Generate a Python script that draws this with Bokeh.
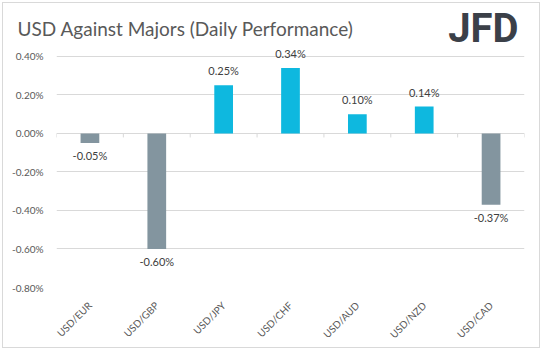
from math import pi
from bokeh.plotting import figure
from bokeh.layouts import column
from bokeh.models import Range1d, FixedTicker, PrintfTickFormatter
from bokeh.embed import file_html
from bokeh.resources import INLINE
from bokeh.core.properties import value

# ---- data ----
pairs = ["USD/EUR", "USD/GBP", "USD/JPY", "USD/CHF", "USD/AUD", "USD/NZD", "USD/CAD"]
changes = [-0.05, -0.60, 0.25, 0.34, 0.10, 0.14, -0.37]
y_ticks = [-0.8, -0.6, -0.4, -0.2, 0.0, 0.2, 0.4]
title_text = "USD Against Majors (Daily Performance)"
brand = "JFD"

# ---- style ----
POS = "#0EB8DF"
NEG = "#83959F"
TXT = "#595959"
GRID = "#D9D9D9"
FONT = "Lato"

W = 536
TOP_H = 42          # header strip (title + logo)
MAIN_H = 302        # chart strip
GRID_PX = 232       # pixels between lowest and highest gridline
TOP_PAD = 11        # room above highest gridline for value labels
units_per_px = (max(y_ticks) - min(y_ticks)) / GRID_PX

# ---- header ----
hdr = figure(width=W, height=TOP_H, output_backend="svg", toolbar_location=None,
             x_range=Range1d(0, W), y_range=Range1d(TOP_H, 0),
             min_border=0, min_border_left=0, min_border_right=0,
             min_border_top=0, min_border_bottom=0, frame_align=False)
hdr.axis.visible = False
hdr.grid.visible = False
hdr.outline_line_color = None
hdr.text(x=[14], y=[25.0], text=[title_text], text_align="left", text_baseline="alphabetic",
         text_font=value(FONT), text_font_size="19px", text_color=TXT)
hdr.text(x=[515], y=[24.5], text=[brand], text_align="right", text_baseline="alphabetic",
         text_font=value("Roboto"), text_font_style="bold",
         text_font_size="40px", text_color="#3B4048")

# ---- chart ----
p = figure(width=W, height=MAIN_H, output_backend="svg", toolbar_location=None,
           x_range=Range1d(0, len(pairs)),
           y_range=Range1d(min(y_ticks), max(y_ticks) + TOP_PAD * units_per_px),
           min_border_left=53, min_border_right=15,
           min_border_top=0, min_border_bottom=MAIN_H - GRID_PX - TOP_PAD,
           frame_align=False)
p.outline_line_color = None
p.background_fill_color = "white"
p.border_fill_color = "white"
p.xgrid.visible = False
p.ygrid.ticker = FixedTicker(ticks=y_ticks)
p.ygrid.grid_line_color = GRID
p.ygrid.grid_line_width = 1

yax = p.yaxis[0]
yax.ticker = FixedTicker(ticks=y_ticks)
yax.formatter = PrintfTickFormatter(format="%.2f%%")
yax.axis_line_color = None
yax.major_tick_line_color = None
yax.minor_tick_line_color = None
yax.major_label_standoff = 7
yax.major_label_text_font = FONT
yax.major_label_text_font_size = "10px"
yax.major_label_text_color = TXT

centers = [i + 0.5 for i in range(len(pairs))]
xax = p.xaxis[0]
xax.ticker = FixedTicker(ticks=centers)
xax.major_label_overrides = {c: n for c, n in zip(centers, pairs)}
xax.major_label_orientation = pi / 4
xax.axis_line_color = None
xax.major_tick_line_color = None
xax.minor_tick_line_color = None
xax.major_label_standoff = 10
xax.major_label_text_font = FONT
xax.major_label_text_font_size = "10px"
xax.major_label_text_color = TXT

# category separators on the zero line
bounds = list(range(len(pairs) + 1))
tick_len = 4 * units_per_px
p.segment(x0=bounds, y0=[0] * len(bounds), x1=bounds, y1=[-tick_len] * len(bounds),
          line_color=GRID, line_width=1)

colors = [POS if v > 0 else NEG for v in changes]
p.vbar(x=centers, top=changes, bottom=0, width=0.28, fill_color=colors, line_color=None)

labels = [f"{v:.2f}%" for v in changes]
offs = [-14.5 if v > 0 else 12.5 for v in changes]
p.text(x=centers, y=changes, text=labels, y_offset=offs,
       text_align="center", text_baseline="alphabetic",
       text_font=value(FONT), text_font_size="11px", text_color="#404040")

layout = column(hdr, p, spacing=0,
                styles={"border": f"1px solid {GRID}", "margin": "2px"})

open("out.html", "w").write(file_html(layout, INLINE))
